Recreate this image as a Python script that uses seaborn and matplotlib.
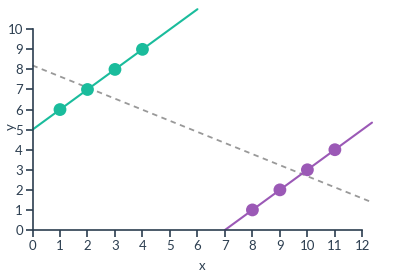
import matplotlib
matplotlib.use("Agg")
import matplotlib.pyplot as plt
import seaborn as sns
import pandas as pd

# Data
green_x = [1, 2, 3, 4]
green_y = [6, 7, 8, 9]
green_line_x = [0, 6]
green_line_y = [5, 11]

purple_x = [8, 9, 10, 11]
purple_y = [1, 2, 3, 4]
purple_line_x = [7, 12.35]
purple_line_y = [0, 5.35]

trend_x = [0, 12.35]
trend_y = [8.2, 1.38]

x_ticks = list(range(0, 13))
y_ticks = list(range(0, 11))

sns.set_style("white")
plt.rcParams["font.family"] = ["Lato", "DejaVu Sans"]

GREEN = "#1abc9c"
PURPLE = "#9b59b6"
NAVY = "#2c3e50"

fig = plt.figure(figsize=(4.05, 2.74), dpi=100)
ax = fig.add_axes([32.5 / 405, 44 / 274, (372 - 32.5) / 405, (230 - 9.2) / 274])

sns.lineplot(x=trend_x, y=trend_y, ax=ax, color="#999999", lw=1.3,
             linestyle=(0, (3, 2.5)), clip_on=False)
sns.lineplot(x=green_line_x, y=green_line_y, ax=ax, color=GREEN, lw=1.5, clip_on=False)
sns.lineplot(x=purple_line_x, y=purple_line_y, ax=ax, color=PURPLE, lw=1.5, clip_on=False)
sns.scatterplot(x=green_x, y=green_y, ax=ax, color=GREEN, s=85, edgecolor="none",
                zorder=5, clip_on=False)
sns.scatterplot(x=purple_x, y=purple_y, ax=ax, color=PURPLE, s=85, edgecolor="none",
                zorder=5, clip_on=False)

ax.set_xlim(0, 12.35)
ax.set_ylim(0, 11)
ax.set_xticks(x_ticks)
ax.set_yticks(y_ticks)
for s in ["top", "right"]:
    ax.spines[s].set_visible(False)
ax.spines["left"].set_bounds(0, 10)
ax.spines["bottom"].set_bounds(0, 12)
for s in ["left", "bottom"]:
    ax.spines[s].set_color(NAVY)
    ax.spines[s].set_linewidth(1.2)
ax.tick_params(axis="both", length=5, width=1.2, color=NAVY, labelcolor=NAVY,
               labelsize=9.5, pad=2, direction="out", left=True, bottom=True)
ax.set_xlabel("x", fontsize=9.5, color=NAVY)
ax.xaxis.set_label_coords(0.5, -30 / (230 - 9.2))
ax.set_ylabel("y", fontsize=9.5, color=NAVY)
ax.yaxis.set_label_coords(-22 / (372 - 32.5), 0.47)
ax.yaxis.label.set_horizontalalignment("center")
ax.yaxis.label.set_verticalalignment("center")
ax.grid(False)
ax.set_facecolor("white")

fig.savefig("out.png", dpi=100)
